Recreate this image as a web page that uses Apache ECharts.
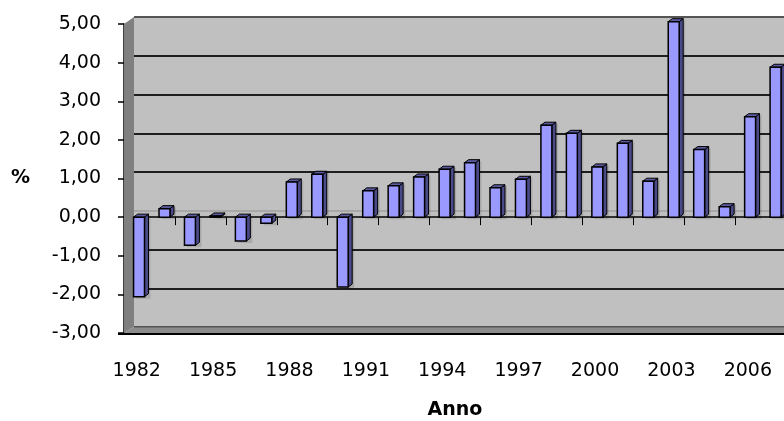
<!DOCTYPE html>
<html>
<head>
<meta charset="utf-8">
<script src="https://cdn.jsdelivr.net/npm/echarts@6/dist/echarts.min.js"></script>
<style>html,body{margin:0;padding:0;background:#fff;}#c{width:784px;height:421px;}</style>
</head>
<body>
<div id="c"></div>
<script>
const years = ['1982','1983','1984','1985','1986','1987','1988','1989','1990','1991','1992','1993','1994','1995','1996','1997','1998','1999','2000','2001','2002','2003','2004','2005','2006','2007'];
const values = [-2.06, 0.22, -0.73, 0.03, -0.62, -0.16, 0.91, 1.11, -1.81, 0.68, 0.81, 1.04, 1.24, 1.41, 0.76, 0.98, 2.38, 2.17, 1.30, 1.91, 0.93, 5.06, 1.75, 0.27, 2.60, 3.88];
const yMin = -3, yMax = 5, yStep = 1;
const yTitle = '%';
const xTitle = 'Anno';

const FONT = 'DejaVu Sans, Liberation Sans, Arial, sans-serif';
const chart = echarts.init(document.getElementById('c'), null, {renderer: 'canvas'});

const data = values.map((v, i) => [i, v]);

chart.setOption({
  animation: false,
  backgroundColor: '#ffffff',
  grid: [
    {left: 124, right: -2, top: 24, bottom: 88, containLabel: false, outerBoundsMode: 'none', z: 2},
    {left: 134, right: -12, top: 17, bottom: 94, containLabel: false, outerBoundsMode: 'none', show: true, backgroundColor: '#c0c0c0', borderWidth: 0, z: 0}
  ],
  graphic: [
    {type: 'polygon', z: 1, shape: {points: [[124, 24], [134, 17], [134, 327], [124, 333]]}, style: {fill: '#808080'}},
    {type: 'polygon', z: 1, shape: {points: [[124, 333], [134, 327], [790, 327], [790, 333]]}, style: {fill: '#8c8c8c'}},
    {type: 'line', z: 1, shape: {x1: 134, y1: 327, x2: 790, y2: 327}, style: {stroke: '#555', lineWidth: 1}},
    {type: 'line', z: 1, shape: {x1: 118, y1: 334, x2: 790, y2: 334}, style: {stroke: '#000', lineWidth: 2}}
  ],
  xAxis: [
    {
      type: 'category', gridIndex: 0, data: years, position: 'bottom',
      axisLine: {show: true, onZero: true, lineStyle: {color: '#000', width: 1.5}},
      axisTick: {show: true, length: 8, inside: false, lineStyle: {color: '#000'}},
      axisLabel: {show: false},
      splitLine: {show: false}
    },
    {
      type: 'category', gridIndex: 0, data: years, position: 'bottom',
      axisLine: {show: false, onZero: false},
      axisTick: {show: false},
      axisLabel: {show: true, interval: 2, margin: 29, color: '#000', fontSize: 19, fontFamily: FONT},
      name: xTitle, nameLocation: 'middle', nameGap: 68,
      nameTextStyle: {color: '#000', fontSize: 19, fontWeight: 'bold', fontFamily: FONT}
    },
    {
      type: 'category', gridIndex: 1, data: years, show: false
    }
  ],
  yAxis: [
    {
      type: 'value', gridIndex: 0, min: yMin, max: yMax, interval: yStep,
      axisLine: {show: true, lineStyle: {color: '#000', width: 1.5}},
      axisTick: {show: true, length: 6, inside: false, lineStyle: {color: '#000', width: 1.5}},
      axisLabel: {margin: 23, color: '#000', fontSize: 19, fontFamily: FONT,
        formatter: v => v.toFixed(2).replace('.', ',')},
      splitLine: {show: false},
      name: yTitle, nameLocation: 'middle', nameRotate: 0, nameGap: 94,
      nameTextStyle: {color: '#000', fontSize: 19, fontWeight: 'bold', fontFamily: FONT}
    },
    {
      type: 'value', gridIndex: 1, min: yMin, max: yMax, interval: yStep,
      axisLine: {show: false}, axisTick: {show: false}, axisLabel: {show: false},
      splitLine: {show: true, lineStyle: {width: 2,
        color: ['#555', '#1e1e1e', '#1e1e1e', '#a8a8a8', '#1e1e1e', '#1e1e1e', '#1e1e1e', '#1e1e1e', '#555']}}
    }
  ],
  series: [{
    type: 'custom',
    xAxisIndex: 0, yAxisIndex: 0,
    z: 5,
    data: data,
    renderItem: function (params, api) {
      const idx = api.value(0), v = api.value(1);
      const base = api.coord([idx, 0]);
      const end = api.coord([idx, v]);
      const cw = api.size([1, 0])[0];
      const w = cw * 0.43;
      const dx = 4, dy = -3;
      const cx = base[0] + cw * 0.09;
      const x0 = cx - w / 2, x1 = cx + w / 2;
      const yTop = Math.min(base[1], end[1]), yBot = Math.max(base[1], end[1]);
      return {
        type: 'group',
        children: [
          {type: 'polygon', shape: {points: [[x0 + 2, yBot + 2], [x1 + dx + 2, yBot + 2], [x1 + dx + 2, yTop + dy + 1], [x1 + 2, yTop + 1]]}, style: {fill: 'rgba(0,0,0,0.12)'}},
          {type: 'polygon', shape: {points: [[x1, yTop], [x1 + dx, yTop + dy], [x1 + dx, yBot + dy], [x1, yBot]]}, style: {fill: '#4a4a88', stroke: '#000', lineWidth: 1}},
          {type: 'polygon', shape: {points: [[x0, yTop], [x0 + dx, yTop + dy], [x1 + dx, yTop + dy], [x1, yTop]]}, style: {fill: '#5a5aa0', stroke: '#000', lineWidth: 1}},
          {type: 'rect', shape: {x: x0, y: yTop, width: w, height: yBot - yTop}, style: {fill: '#9999ff', stroke: '#000', lineWidth: 1.5}}
        ]
      };
    }
  }]
});
</script>
</body>
</html>
